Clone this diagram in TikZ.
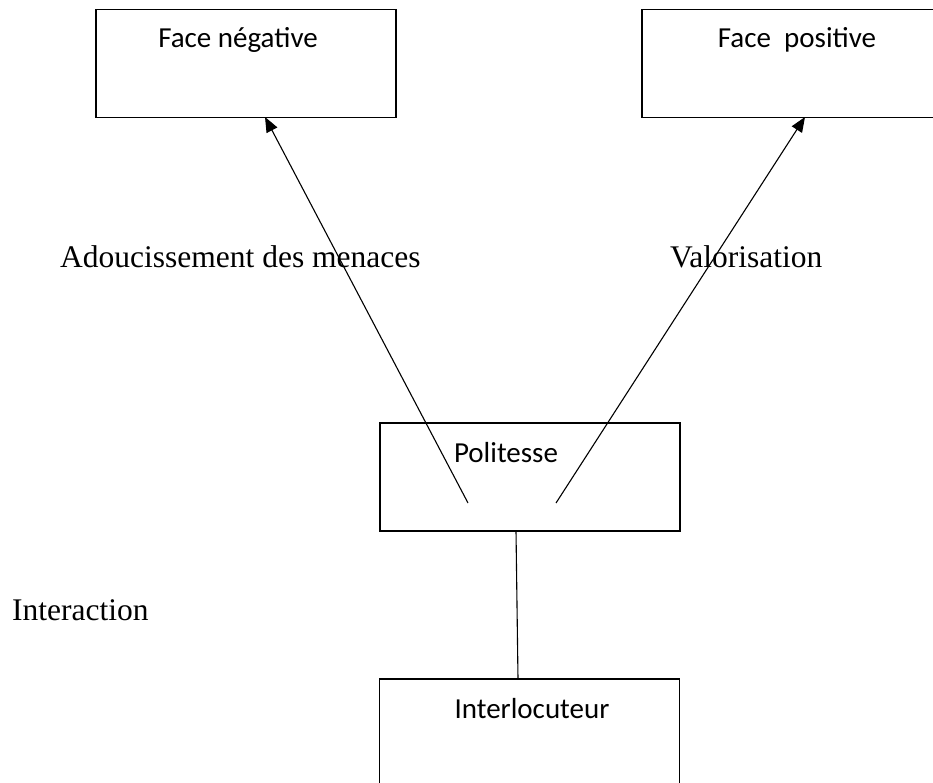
\documentclass[tikz,border=0pt]{standalone}
\usepackage{fontspec}
\setmainfont{Liberation Serif}
\newfontfamily\calib{Carlito}
\usetikzlibrary{arrows.meta}
\tikzset{
  boxnode/.style={draw, line width=1.6pt, inner sep=0pt, outer sep=0pt, minimum width=300pt, minimum height=108pt},
  boxtext/.style={inner sep=0pt, anchor=base, font=\calib\fontsize{29}{34}\selectfont},
  lbl/.style={inner sep=0pt, anchor=base west, font=\fontsize{31.5}{36}\selectfont},
  arr/.style={line width=1.1pt, -{Triangle[length=15pt,width=12pt]}},
  conn/.style={line width=1.1pt}
}
\begin{document}
\begin{tikzpicture}[x=1pt,y=-1pt]
\useasboundingbox (0,0) rectangle (933,783);
\fill[white] (0,0) rectangle (933,783);
\begin{scope}
\clip (0,0) rectangle (933,783);
% boxes
\node[boxnode] (fn) at (246,63.5) {};
\node[boxnode, minimum width=304pt] (fp) at (794,63.5) {};
\node[boxnode] (pol) at (530,477) {};
\node[boxnode] (intl) at (529.5,733) {};
% box texts
\node[boxtext] (fnt) at (238,48) {Face négative};
\node[boxtext] (fpt) at (797,48) {Face\ \ positive};
\node[boxtext] (polt) at (506,462) {Politesse};
\node[boxtext] (intlt) at (532,718) {Interlocuteur};
% labels
\node[lbl] (adou) at (60,268) {Adoucissement des menaces};
\node[lbl] (valo) at (670,268) {Valorisation};
\node[lbl] (inter) at (12,620) {Interaction};
% connector ends
\coordinate (ls) at (468,503);
\coordinate (rs) at (556,503);
\coordinate (lt) at (265,117);
\coordinate (rt) at (805,117);
\coordinate (vs) at (516,531);
\coordinate (ve) at (518,679);
\draw[arr] (ls) -- (lt);
\draw[arr] (rs) -- (rt);
\draw[conn] (vs) -- (ve);
\end{scope}
\end{tikzpicture}
\end{document}
